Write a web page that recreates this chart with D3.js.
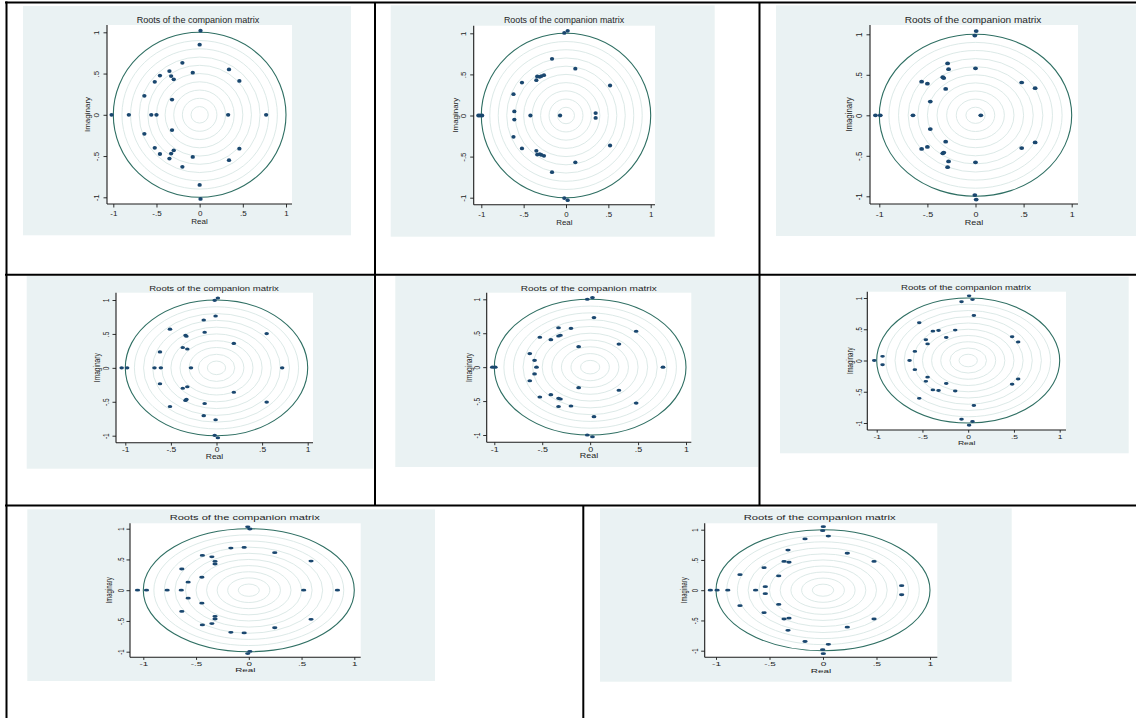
<!DOCTYPE html>
<html>
<head>
<meta charset="utf-8">
<script src="https://cdn.jsdelivr.net/npm/d3@7"></script>
<style>
  html, body { margin: 0; padding: 0; background: #ffffff; }
  svg { display: block; }
  text { font-family: "Liberation Sans", Arial, Helvetica, sans-serif; fill: #1e1e1e; }
</style>
</head>
<body>
<svg id="chart" width="1136" height="718"></svg>
<script>
// ---------------- DATA ----------------
const titleText = "Roots of the companion matrix";
const xTitle = "Real";
const yTitle = "Imaginary";
const tickValues = [-1, -0.5, 0, 0.5, 1];
const tickLabels = ["-1", "-.5", "0", ".5", "1"];
const ringRadii = [0.1, 0.2, 0.3, 0.4, 0.5, 0.6, 0.7, 0.8, 0.9];
const unitRadius = 1;

// roots as [real, imaginary]
const roots1 = [
  [0.01, 1.02], [0, 0.85], [-0.2, 0.63], [0.34, 0.55], [-0.35, 0.53], [-0.08, 0.51], [-0.46, 0.475],
  [-0.33, 0.47], [-0.30, 0.43], [0.46, 0.41], [-0.52, 0.40], [-0.64, 0.23], [-0.32, 0.185],
  [0.01, -1.02], [0, -0.85], [-0.2, -0.63], [0.34, -0.55], [-0.35, -0.53], [-0.08, -0.51], [-0.46, -0.475],
  [-0.33, -0.47], [-0.30, -0.43], [0.46, -0.41], [-0.52, -0.40], [-0.64, -0.23], [-0.32, -0.185],
  [-1.02, 0], [-0.82, 0], [-0.56, 0], [-0.50, 0], [0.33, 0], [0.77, 0]
];
const roots2 = [
  [-0.02, 1.005], [0.02, 1.03], [-0.165, 0.69], [0.11, 0.57], [-0.26, 0.49], [-0.29, 0.48], [-0.31, 0.47],
  [-0.34, 0.475], [-0.35, 0.43], [-0.52, 0.40], [0.52, 0.365], [-0.62, 0.26], [-0.61, 0.05], [0.35, 0.03],
  [-0.02, -1.005], [0.02, -1.03], [-0.165, -0.69], [0.11, -0.57], [-0.26, -0.49], [-0.29, -0.48], [-0.31, -0.47],
  [-0.34, -0.475], [-0.35, -0.43], [-0.52, -0.40], [0.52, -0.365], [-0.62, -0.26], [-0.61, -0.05], [0.35, -0.03],
  [-1.035, 0], [-1.015, 0], [-0.99, 0], [-0.42, 0], [-0.07, 0]
];
const roots3 = [
  [0.007, 1.04], [-0.007, 0.985], [-0.29, 0.64], [-0.28, 0.57], [0, 0.58], [-0.34, 0.47], [-0.33, 0.46],
  [-0.56, 0.415], [-0.50, 0.39], [0.48, 0.405], [0.62, 0.335], [-0.31, 0.325], [-0.47, 0.17],
  [0.007, -1.04], [-0.007, -0.985], [-0.29, -0.64], [-0.28, -0.57], [0, -0.58], [-0.34, -0.47], [-0.33, -0.46],
  [-0.56, -0.415], [-0.50, -0.39], [0.48, -0.405], [0.62, -0.335], [-0.31, -0.325], [-0.47, -0.17],
  [-1.04, 0], [-0.99, 0], [-0.65, 0], [0.055, 0]
];
const roots4 = [
  [0.015, 1.03], [-0.02, 0.995], [-0.01, 0.765], [-0.14, 0.705], [-0.51, 0.57], [-0.13, 0.525], [0.55, 0.505],
  [-0.34, 0.48], [-0.33, 0.465], [0.19, 0.36], [-0.37, 0.30], [-0.32, 0.278], [-0.62, 0.235],
  [0.015, -1.03], [-0.02, -0.995], [-0.01, -0.765], [-0.14, -0.705], [-0.51, -0.57], [-0.13, -0.525], [0.55, -0.505],
  [-0.34, -0.48], [-0.33, -0.465], [0.19, -0.36], [-0.37, -0.30], [-0.32, -0.278], [-0.62, -0.235],
  [-1.04, 0], [-0.98, 0], [-0.68, 0], [-0.61, 0], [-0.28, 0], [0.72, 0]
];
const roots5 = [
  [0.024, 1.025], [-0.03, 1.0], [0.04, 0.73], [0.48, 0.53], [-0.33, 0.58], [-0.20, 0.572], [-0.525, 0.44],
  [-0.33, 0.46], [-0.31, 0.47], [-0.41, 0.405], [0.30, 0.34], [-0.12, 0.302], [-0.63, 0.20], [-0.58, 0.10],
  [0.024, -1.025], [-0.03, -1.0], [0.04, -0.73], [0.48, -0.53], [-0.33, -0.58], [-0.20, -0.572], [-0.525, -0.44],
  [-0.33, -0.46], [-0.31, -0.47], [-0.41, -0.405], [0.30, -0.34], [-0.12, -0.302], [-0.63, -0.20], [-0.58, -0.10],
  [-1.02, 0], [-0.99, 0], [-0.56, 0], [0.76, 0]
];
const roots6 = [
  [0.01, 1.035], [0.047, 0.975], [-0.073, 0.94], [0.062, 0.72], [-0.535, 0.605], [-0.142, 0.487], [-0.324, 0.48],
  [-0.386, 0.47], [0.48, 0.38], [0.546, 0.296], [-0.24, 0.368], [-0.463, 0.333], [-0.444, 0.266], [-0.583, 0.146],
  [-0.936, 0.067],
  [0.01, -1.035], [0.047, -0.975], [-0.073, -0.94], [0.062, -0.72], [-0.535, -0.605], [-0.142, -0.487], [-0.324, -0.48],
  [-0.386, -0.47], [0.48, -0.38], [0.546, -0.296], [-0.24, -0.368], [-0.463, -0.333], [-0.444, -0.266], [-0.583, -0.146],
  [-0.936, -0.067],
  [-1.027, 0], [-0.641, 0]
];
const roots7 = [
  [-0.01, 1.03], [0.01, 0.995], [-0.17, 0.685], [-0.044, 0.695], [0.246, 0.61], [-0.44, 0.565], [-0.35, 0.543],
  [-0.32, 0.468], [-0.32, 0.425], [0.59, 0.474], [-0.635, 0.345], [-0.445, 0.211], [-0.575, 0.13],
  [-0.01, -1.03], [0.01, -0.995], [-0.17, -0.685], [-0.044, -0.695], [0.246, -0.61], [-0.44, -0.565], [-0.35, -0.543],
  [-0.32, -0.468], [-0.32, -0.425], [0.59, -0.474], [-0.635, -0.345], [-0.445, -0.211], [-0.575, -0.13],
  [-1.055, 0], [-0.97, 0], [-0.774, 0], [-0.64, 0], [0.52, 0], [0.84, 0]
];
const roots8 = [
  [0.003, 1.05], [-0.003, 0.983], [0.05, 0.895], [-0.168, 0.848], [-0.327, 0.664], [0.227, 0.611], [0.477, 0.476],
  [-0.364, 0.476], [-0.318, 0.462], [-0.551, 0.372], [-0.414, 0.236], [-0.776, 0.256], [-0.539, 0.058], [0.735, 0.075],
  [0.003, -1.05], [-0.003, -0.983], [0.05, -0.895], [-0.168, -0.848], [-0.327, -0.664], [0.227, -0.611], [0.477, -0.476],
  [-0.364, -0.476], [-0.318, -0.462], [-0.551, -0.372], [-0.414, -0.236], [-0.776, -0.256], [-0.539, -0.058], [0.735, -0.075],
  [-1.053, 0], [-0.99, 0], [-0.89, 0], [-0.63, 0]
];
const allRoots = [roots1, roots2, roots3, roots4, roots5, roots6, roots7, roots8];

// ---------------- LAYOUT (pixel geometry of each stretched panel) ----------------
const layouts = [
  { bg: [23, 6, 351, 235.3],      plot: [107, 25, 292, 204],         xr: [113.3, 286],   yr: [32.3, 197.3], title: [198, 20],      xl: [9.3, 17.5],  yl: [-10.3, -19.7] },
  { bg: [390.7, 5.3, 714.7, 236.7], plot: [473.7, 25.7, 655, 204.7],  xr: [481.3, 650.7], yr: [33.3, 197.7], title: [564, 20],      xl: [9.6, 17.5],  yl: [-9.7, -18.4] },
  { bg: [776, 5.3, 1136, 236],    plot: [870, 25, 1078, 204],        xr: [879.3, 1071.7], yr: [34.3, 196.3], title: [973, 20],     xl: [10, 18],     yl: [-10.7, -20.7] },
  { bg: [26.7, 276, 373.3, 468.7], plot: [116, 292.7, 313, 442.7],    xr: [125.3, 307.7], yr: [300, 435.7],  title: [214, 288],     xl: [7.2, 13.8],  yl: [-9.3, -18.7] },
  { bg: [395.3, 276, 758, 467],   plot: [486.7, 292.7, 691.3, 442.3], xr: [494.3, 686],   yr: [299.3, 435],  title: [588.8, 288],   xl: [7.4, 13.8],  yl: [-9.7, -18] },
  { bg: [780, 276.7, 1128.7, 453.3], plot: [867.3, 291.7, 1066, 430], xr: [876.7, 1059.7], yr: [298, 423],   title: [966, 287.3],   xl: [6.6, 13],    yl: [-8.3, -17.3] },
  { bg: [27.3, 509.3, 435, 681],  plot: [130, 523.3, 360.7, 657.3],  xr: [143.3, 354.3], yr: [528.7, 651.7], title: [244.7, 518.3], xl: [6.6, 13],    yl: [-9, -20.7] },
  { bg: [600, 508.3, 1011.7, 681.7], plot: [704.7, 523.3, 937.3, 657.3], xr: [716, 930], yr: [529.7, 650.7], title: [819.7, 518.3], xl: [6.9, 13.9],  yl: [-9.4, -20.4] }
];

const colors = { bg: "#EAF2F3", plot: "#FFFFFF", marker: "#1A476F", unit: "#2F6F63", ring: "#D8E6E4", axis: "#1a1a1a" };

// ---------------- DRAW ----------------
const svg = d3.select("#chart");
svg.append("rect").attr("width", 1136).attr("height", 718).attr("fill", "#fff");

layouts.forEach((L, i) => {
  const roots = allRoots[i];
  const g = svg.append("g");
  const x = d3.scaleLinear().domain([-1, 1]).range(L.xr);
  const y = d3.scaleLinear().domain([1, -1]).range(L.yr);
  const xu = x(1) - x(0), yu = y(0) - y(1);
  const vs = yu / 82.5;                 // vertical scale vs reference panel
  const sx = (xu / yu) / 1.04;          // horizontal stretch of text
  const fsTitle = 9 * vs, fsLab = 8 * vs;

  g.append("rect").attr("x", L.bg[0]).attr("y", L.bg[1])
    .attr("width", L.bg[2] - L.bg[0]).attr("height", L.bg[3] - L.bg[1]).attr("fill", colors.bg);
  g.append("rect").attr("x", L.plot[0]).attr("y", L.plot[1])
    .attr("width", L.plot[2] - L.plot[0]).attr("height", L.plot[3] - L.plot[1]).attr("fill", colors.plot);

  // grid rings
  g.append("g").selectAll("ellipse").data(ringRadii).join("ellipse")
    .attr("cx", x(0)).attr("cy", y(0))
    .attr("rx", d => x(d) - x(0)).attr("ry", d => y(0) - y(d))
    .attr("fill", "none").attr("stroke", colors.ring).attr("stroke-width", 0.9);
  // unit circle
  g.append("ellipse").attr("cx", x(0)).attr("cy", y(0))
    .attr("rx", x(unitRadius) - x(0)).attr("ry", y(0) - y(unitRadius))
    .attr("fill", "none").attr("stroke", colors.unit).attr("stroke-width", 1.1);

  // axes
  const xAxis = d3.axisBottom(x).tickValues(tickValues).tickFormat((d, k) => tickLabels[k])
    .tickSizeInner(3.5 * vs).tickSizeOuter(0);
  const gx = g.append("g").attr("transform", `translate(0,${L.plot[3]})`).call(xAxis);
  gx.select(".domain").remove();
  gx.selectAll(".tick line").attr("stroke", colors.axis).attr("stroke-width", 0.9);
  gx.selectAll(".tick text")
    .attr("y", null).attr("dy", null)
    .attr("dominant-baseline", "central")
    .attr("text-anchor", "middle")
    .attr("font-size", fsLab)
    .attr("fill", "#1e1e1e")
    .attr("transform", `translate(0,${L.xl[0]}) scale(${sx},1)`);

  const yAxis = d3.axisLeft(y).tickValues(tickValues).tickFormat((d, k) => tickLabels[k])
    .tickSizeInner(3.5).tickSizeOuter(0);
  const gy = g.append("g").attr("transform", `translate(${L.plot[0]},0)`).call(yAxis);
  gy.select(".domain").remove();
  gy.selectAll(".tick line").attr("stroke", colors.axis).attr("stroke-width", 0.9);
  gy.selectAll(".tick text")
    .attr("x", null).attr("dy", null)
    .attr("dominant-baseline", "central")
    .attr("text-anchor", "middle")
    .attr("font-size", fsLab)
    .attr("fill", "#1e1e1e")
    .attr("transform", `translate(${L.yl[0]},0) scale(${sx},1) rotate(-90)`);

  g.append("line").attr("x1", L.plot[0]).attr("x2", L.plot[2]).attr("y1", L.plot[3]).attr("y2", L.plot[3])
    .attr("stroke", colors.axis).attr("stroke-width", 1.1);
  g.append("line").attr("x1", L.plot[0]).attr("x2", L.plot[0]).attr("y1", L.plot[1]).attr("y2", L.plot[3])
    .attr("stroke", colors.axis).attr("stroke-width", 1.1);

  // points
  g.append("g").selectAll("ellipse").data(roots).join("ellipse")
    .attr("cx", d => x(d[0])).attr("cy", d => y(d[1]))
    .attr("rx", 0.025 * xu).attr("ry", 0.023 * yu)
    .attr("fill", colors.marker);

  // titles
  const pcx = (L.plot[0] + L.plot[2]) / 2, pcy = (L.plot[1] + L.plot[3]) / 2;
  g.append("text").text(titleText)
    .attr("transform", `translate(${L.title[0]},${L.title[1]}) scale(${sx},1)`)
    .attr("text-anchor", "middle").attr("dominant-baseline", "central")
    .attr("font-size", fsTitle);
  g.append("text").text(xTitle)
    .attr("transform", `translate(${pcx},${L.plot[3] + L.xl[1]}) scale(${sx},1)`)
    .attr("text-anchor", "middle").attr("dominant-baseline", "central")
    .attr("font-size", fsLab);
  g.append("text").text(yTitle)
    .attr("transform", `translate(${L.plot[0] + L.yl[1]},${pcy}) scale(${sx},1) rotate(-90)`)
    .attr("text-anchor", "middle").attr("dominant-baseline", "central")
    .attr("font-size", fsLab);
});

// table rules
const rules = [
  [5, 2.5, 1136, 2.5],
  [6.5, 1.5, 6.5, 718],
  [5, 274.7, 1136, 274.7],
  [5, 505.5, 1136, 505.5],
  [375, 2, 375, 505.5],
  [759.5, 2, 759.5, 505.5],
  [583.3, 505.5, 583.3, 718]
];
svg.append("g").selectAll("line").data(rules).join("line")
  .attr("x1", d => d[0]).attr("y1", d => d[1]).attr("x2", d => d[2]).attr("y2", d => d[3])
  .attr("stroke", "#000").attr("stroke-width", 2);
</script>
</body>
</html>
